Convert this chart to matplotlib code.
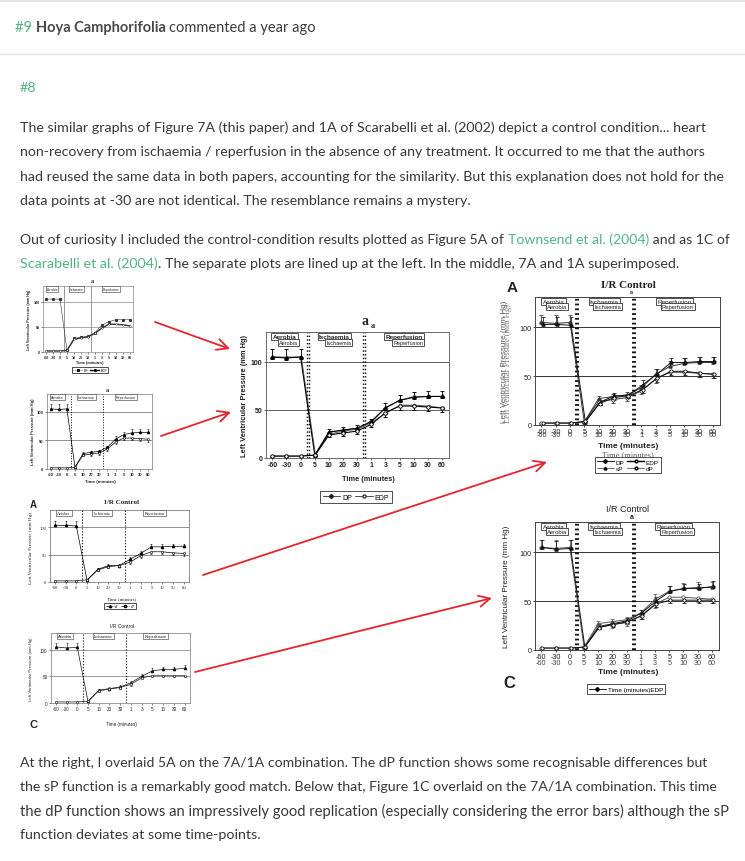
import numpy as np
import matplotlib
matplotlib.use('Agg')
import matplotlib.pyplot as plt
from matplotlib.lines import Line2D
from matplotlib.patches import Rectangle
from matplotlib.transforms import offset_copy

W, H = 745, 862
GREEN = '#52b384'
INK = '#383838'
RED = '#e3262e'
BODY = 'Lato'

# ---- comment text ----
header = [('#9 ', GREEN, 'normal'), ('Hoya Camphorifolia ', '#4a4a4a', 'bold'),
          ('commented a year ago', '#3c3c3c', 'normal')]
para1 = ['The similar graphs of Figure 7A (this paper) and 1A of Scarabelli et al. (2002) depict a control condition... heart',
         'non-recovery from ischaemia / reperfusion in the absence of any treatment. It occurred to me that the authors',
         'had reused the same data in both papers, accounting for the similarity. But this explanation does not hold for the',
         'data points at -30 are not identical. The resemblance remains a mystery.']
para2 = [[('Out of curiosity I included the control-condition results plotted as Figure 5A of ', INK),
          ('Townsend et al. (2004)', GREEN), (' and as 1C of', INK)],
         [('Scarabelli et al. (2004)', GREEN),
          ('. The separate plots are lined up at the left. In the middle, 7A and 1A superimposed.', INK)]]
para3 = ['At the right, I overlaid 5A on the 7A/1A combination. The dP function shows some recognisable differences but',
         'the sP function is a remarkably good match. Below that, Figure 1C overlaid on the 7A/1A combination. This time',
         'the dP function shows an impressively good replication (especially considering the error bars) although the sP',
         'function deviates at some time-points.']

# ---- chart data (mm Hg) ----
times = ['-60', '-30', '0', '5', '10', '20', '30', '1', '3', '5', '10', '30', '60']
phase_names = ['Aerobia', 'Ischaemia', 'Reperfusion']

# Figure 7A (this paper)
dp_7a = [105, 105, 105, 3, 27, 29, 31, 38, 53, 60, 64, 64, 64]
edp_7a = [2, 2, 2, 3, 25, 28, 30, 37, 47, 55, 55, 54, 52]
# Scarabelli et al. (2002) 1A
dp_1a = [105, 104, 105, 3, 27, 29, 31, 38, 52, 60, 63, 64, 64]
dp_1a_err = [8, 9, 8, 1, 3, 3, 3, 3, 5, 5, 6, 6, 6]
edp_1a = [2, 2, 2, 3, 24, 26, 28, 35, 47, 54, 54, 53, 52]
edp_1a_err = [1, 1, 1, 1, 2, 3, 3, 3, 4, 4, 4, 4, 4]
# Townsend et al. (2004) 5A
dp_5a = [103, 103, 102, 3, 23, 30, 30, 41, 52, 64, 64, 65, 65]
dp_5a_err = [8, 8, 9, 1, 3, 3, 2, 5, 5, 5, 5, 5, 5]
edp_5a = [2, 2, 2, 4, 22, 28, 30, 36, 48, 55, 55, 53, 52]
edp_5a_err = [1, 1, 1, 1, 2, 2, 2, 3, 4, 4, 4, 4, 4]
# Scarabelli et al. (2004) 1C
dp_1c = [105, 103, 104, 3, 24, 27, 30, 38, 50, 60, 63, 63, 65]
dp_1c_err = [8, 9, 9, 1, 3, 3, 3, 3, 4, 5, 5, 5, 6]
edp_1c = [2, 2, 2, 3, 23, 26, 29, 35, 47, 51, 51, 51, 51]
edp_1c_err = [1, 1, 1, 1, 2, 2, 2, 3, 3, 3, 3, 3, 3]

fig = plt.figure(figsize=(W / 100, H / 100), dpi=100)
bg = fig.add_axes([0, 0, 1, 1])
bg.set_xlim(0, W)
bg.set_ylim(H, 0)
bg.axis('off')
R = fig.canvas.get_renderer()


def wpx(s, fs, weight='normal', family=BODY):
    t = bg.text(0, 0, s, fontsize=fs, family=family, weight=weight)
    w = t.get_window_extent(R).width
    t.remove()
    return w


def fit(t, length):
    e = t.get_window_extent(R)
    t.set_fontsize(t.get_fontsize() * length / max(e.width, e.height))
    return t


def seg_line(x, y, segs, fs, right=None):
    # right: where the line ends in the screenshot, used to nudge the size
    if right:
        whole = ''.join(seg[0] for seg in segs)
        fs = fs * (right - x) / wpx(whole, fs)
    for seg in segs:
        s, c = seg[0], seg[1]
        wt = seg[2] if len(seg) > 2 else 'normal'
        bg.text(x, y, s, color=c, fontsize=fs, family=BODY, weight=wt, va='center', ha='left')
        x += wpx(s + '|', fs, wt) - wpx('|', fs, wt)


# page furniture
bg.add_patch(Rectangle((0, 0), W, 3, color='#e3e7ea', lw=0))
bg.plot([0, W], [55, 55], color='#e4e4e4', lw=1)

fs_body = 12 * 685 / wpx(para1[0], 12)
fs_head = 12 * 297 / wpx(''.join(s for s, c, w in header), 12)
seg_line(15, 28, header, fs_head)
bg.text(20, 88, '#8', color=GREEN, fontsize=fs_body, family=BODY, va='center')
for y, line, r in zip([128, 152, 177, 201], para1, [705, 705, 722, None]):
    seg_line(20, y, [(line, INK)], fs_body, r)
for y, segs, r in zip([240, 264], para2, [727, 676]):
    seg_line(20, y, segs, fs_body, r)
for y, line, r in zip([763, 787, 811, 835], para3, [703, 715, 722, None]):
    seg_line(20, y, [(line, INK)], fs_body, r)

# red arrows between the plots
for start, tip in [((155, 323), (230, 350)), ((161, 437), (231, 413)),
                   ((203, 576), (547, 463)), ((195, 673), (492, 599))]:
    bg.annotate('', xy=tip, xytext=start,
                arrowprops=dict(arrowstyle='->,head_length=0.8,head_width=0.4', color=RED,
                                lw=1.3, shrinkA=0, shrinkB=0))


# ---- chart helpers ----
def add_ax(x0, y0, x1, y1):
    ax = fig.add_axes([x0 / W, 1 - y1 / H, (x1 - x0) / W, (y1 - y0) / H])
    ax.set_xlim(-0.45, 12.5)
    ax.set_ylim(0, 131)
    ax.set_facecolor('none')
    return ax


def frame(ax, fs, fam='Liberation Sans', wt='normal', spine='#666', grid='#555', lw=0.6,
          vstyle=':', vlw=0.9, vcol='k', double=False, dup=0):
    for sp in ax.spines.values():
        sp.set_color(spine)
        sp.set_linewidth(lw)
    for yy in (50, 100):
        ax.axhline(yy, color=grid, lw=lw, zorder=1)
    for xx in (2.5, 6.5):
        for off in ((-0.07, 0.07) if double else (0,)):
            ax.axvline(xx + off, color=vcol, ls=vstyle, lw=vlw, zorder=1)
    ax.set_xticks(range(len(times)))
    ax.set_xticklabels(times)
    ax.set_yticks([0, 50, 100])
    ax.tick_params(labelsize=fs, length=1.5, width=lw * 0.8, pad=1, colors='#222')
    for lab in ax.get_xticklabels() + ax.get_yticklabels():
        lab.set_family(fam)
        lab.set_weight(wt)
    if dup:
        # the overlaid screenshots show a second, slightly shifted row of tick labels
        tr = offset_copy(ax.get_xaxis_transform(), fig=fig, x=0, y=-dup, units='dots')
        for i, s in enumerate(times):
            ax.text(i, -0.035, s, transform=tr, ha='center', va='top', fontsize=fs,
                    family=fam, weight=wt, color='#444', clip_on=False)


def series(ax, dp, dpe, edp, edpe, dx=0.0, c='k', mk='^', lw=0.7, ms=2.5, cap=1.0, edp_lw=None):
    xs = np.arange(len(times)) + dx
    z = np.zeros(len(times))
    if dpe is not None:
        ax.errorbar(xs, dp, yerr=[z, dpe], fmt='none', ecolor=c, elinewidth=lw * 0.8,
                    capsize=cap, capthick=lw * 0.8, zorder=3)
    ax.plot(xs, dp, color=c, lw=lw, marker=mk, ms=ms, mfc=c, mec=c, zorder=4)
    if edpe is not None:
        ax.errorbar(xs, edp, yerr=[edpe, z], fmt='none', ecolor=c, elinewidth=lw * 0.8,
                    capsize=cap, capthick=lw * 0.8, zorder=3)
    ax.plot(xs, edp, color=c, lw=edp_lw or lw, marker='o', ms=ms, mfc='white', mec=c,
            mew=lw * 0.8, zorder=4)


def phases(ax, fs, fam='Liberation Sans', wt='normal', dx=0.0, dy=0.0, pad=0.25, lw=0.5, ec='#333'):
    for xc, name in zip((0.85, 4.4, 9.3), phase_names):
        ax.text(xc + dx, 129 - dy, name, ha='center', va='top', fontsize=fs, family=fam, weight=wt,
                color='#222', bbox=dict(boxstyle='square,pad=%g' % pad, fc='white', ec=ec, lw=lw),
                zorder=5)


def label(x, y, s, length=None, rot=0, fs=5, fam='Liberation Sans', wt='normal', color='#222'):
    t = bg.text(x, y, s, rotation=rot, ha='center', va='center', fontsize=fs, family=fam,
                weight=wt, color=color)
    if length:
        fit(t, length)
    return t


def legend(cx, cy, handles, labels, fs, fam='Liberation Sans', wt='normal', ncol=2, hl=2.2):
    leg = fig.legend(handles, labels, loc='center', bbox_to_anchor=(cx / W, 1 - cy / H), ncol=ncol,
                     prop={'family': fam, 'size': fs, 'weight': wt}, frameon=True, fancybox=False,
                     edgecolor='#333', framealpha=1, handlelength=hl, handletextpad=0.3,
                     columnspacing=0.5, borderpad=0.3, borderaxespad=0, labelspacing=0.1)
    leg.get_frame().set_linewidth(0.6)
    return leg


def h(mk, mfc='k', ls='-', c='k', lw=0.6, ms=2.5):
    return Line2D([], [], color=c, lw=lw, ls=ls, marker=mk, mfc=mfc, mec=c, ms=ms)


YL = 'Left Ventricular Pressure (mm Hg)'
XL = 'Time (minutes)'

# ---- left column: the four separate plots ----
# 7A (this paper)
ax = add_ax(43, 287, 133, 353)
frame(ax, 2.6, wt='bold', spine='#888', grid='#888', lw=0.5, vstyle='-', vcol='#888', vlw=0.6)
series(ax, dp_7a, None, edp_7a, None, c='#333', mk='s', lw=0.4, ms=1.2, edp_lw=1.0)
phases(ax, 2.2, pad=0.3, lw=0.4)
label(92, 282, 'a', fs=4.5, fam='Liberation Serif', wt='bold')
label(29, 320, YL, length=62, rot=90, wt='bold')
label(90, 363, XL, fs=2.8, wt='bold')
legend(90, 371, [h('s', ls=':', lw=0.4, ms=1.2), h('o', mfc='white', lw=1.0, ms=1.2)], ['DP', 'EDP'], 2.3, hl=3)

# 1A (Scarabelli 2002)
ax = add_ax(47, 395, 152, 470)
frame(ax, 3.0, wt='bold', spine='#777', grid='#666', lw=0.5, vstyle=':', vlw=0.7)
series(ax, dp_1a, dp_1a_err, edp_1a, edp_1a_err, c='k', mk='^', lw=0.5, ms=1.5, cap=0.8)
phases(ax, 2.6, pad=0.3, lw=0.4)
label(107, 391, 'a', fs=4.5, fam='Liberation Serif', wt='bold')
label(33, 432, YL, length=68, rot=90, wt='bold')
label(100, 482, XL, fs=3.2, wt='bold')

# 5A (Townsend 2004)
ax = add_ax(50, 511, 189, 583)
frame(ax, 3.4, fam='Liberation Serif', spine='#666', grid='#666', lw=0.5, vstyle=':', vlw=0.8)
series(ax, dp_5a, dp_5a_err, edp_5a, edp_5a_err, c='k', mk='^', lw=0.5, ms=1.6, cap=0.8)
phases(ax, 3.0, fam='Liberation Serif', pad=0.3, lw=0.4)
label(33, 505, 'A', fs=7, wt='bold')
label(122, 503, 'I/R Control', fs=5, fam='Liberation Serif', wt='bold')
label(31, 548, YL, length=72, rot=90, fam='Liberation Serif')
label(122, 599, XL, fs=3.4, fam='Liberation Serif')
legend(120, 607, [h('^', ls='--', lw=0.5, ms=1.6), h('o', mfc='white', ls='--', lw=0.5, ms=1.6)],
       ['sP', 'dP'], 2.8, fam='Liberation Serif')

# 1C (Scarabelli 2004)
ax = add_ax(51, 634, 190, 704)
frame(ax, 3.3, spine='#777', grid='#777', lw=0.5, vstyle=':', vlw=0.8)
series(ax, dp_1c, dp_1c_err, edp_1c, edp_1c_err, c='#111', mk='^', lw=0.5, ms=1.6, cap=0.8)
phases(ax, 3.0, pad=0.3, lw=0.4)
label(122, 627, 'I/R Control', fs=3.6)
label(33, 725, 'C', fs=8, wt='bold')
label(31, 669, YL, length=66, rot=90)
label(122, 725, XL, fs=3.3)

# ---- middle: 7A and 1A superimposed ----
ax = add_ax(266, 333, 449, 459)
frame(ax, 5.0, wt='bold', spine='#555', grid='#444', lw=0.6, vstyle=':', vlw=1.0, double=True)
series(ax, dp_7a, None, edp_7a, None, dx=0.05, c='#666', mk='^', lw=0.7, ms=2.0)
series(ax, dp_1a, dp_1a_err, edp_1a, edp_1a_err, c='k', mk='^', lw=0.8, ms=2.5, cap=1.5)
phases(ax, 4.6, wt='bold', pad=0.2, lw=0.6)
phases(ax, 4.0, dx=0.3, dy=6.5, pad=0.2, lw=0.6)
label(365, 322, 'a', fs=10, fam='Liberation Serif', wt='bold')
label(373, 326, 'a', fs=6, fam='Liberation Serif', wt='bold')
label(244, 396, YL, length=123, rot=90, wt='bold')
label(368, 480, XL, fs=5.3, wt='bold')
legend(356, 498, [h('D', c='#333', ms=2.2), h('o', mfc='white', c='#333', ms=2.2)], ['DP', 'EDP'], 5.0, hl=2.5)

# ---- right top: 5A overlaid on 7A/1A ----
ax = add_ax(535, 298, 720, 426)
frame(ax, 5.2, spine='#444', grid='#333', lw=0.7, vstyle=':', vlw=1.3, double=True, dup=2)
series(ax, dp_1a, dp_1a_err, edp_1a, edp_1a_err, c='#333', mk='^', lw=0.7, ms=2.3, cap=1.3)
series(ax, dp_5a, dp_5a_err, edp_5a, edp_5a_err, dx=0.08, c='#111', mk='^', lw=0.7, ms=2.3, cap=1.3)
phases(ax, 4.6, pad=0.2, lw=0.6)
phases(ax, 4.2, dx=0.25, dy=5, pad=0.2, lw=0.6)
label(512, 288, 'A', fs=11, wt='bold')
label(628, 286, 'I/R Control', fs=8, fam='Liberation Serif', wt='bold')
label(631, 293, 'a', fs=4, wt='bold')
label(505, 362, YL, length=125, rot=90, color='#555')
label(508, 364, YL, length=118, rot=90, fam='Liberation Serif', color='#777')
label(628, 447, XL, fs=6, wt='bold')
label(628, 455, XL, fs=6, fam='Liberation Serif', color='#555')
legend(628, 466, [h('D', ms=2), h('^', lw=0.4, ms=2), h('o', mfc='white', lw=1.0, ms=2),
                  h('o', mfc='white', lw=0.4, ms=2)],
       ['DP', 'sP', 'EDP', 'dP'], 4.6, hl=2.6)

# ---- right bottom: 1C overlaid on 7A/1A ----
ax = add_ax(535, 523, 719, 651)
frame(ax, 5.2, spine='#444', grid='#333', lw=0.7, vstyle=':', vlw=1.3, double=True, dup=5)
series(ax, dp_1a, dp_1a_err, edp_1a, edp_1a_err, c='#555', mk='^', lw=0.7, ms=2.3, cap=1.3)
series(ax, dp_1c, dp_1c_err, edp_1c, edp_1c_err, dx=0.06, c='#111', mk='^', lw=0.7, ms=2.3, cap=1.3)
phases(ax, 4.6, pad=0.2, lw=0.6)
phases(ax, 4.2, dx=0.25, dy=5, pad=0.2, lw=0.6)
label(509, 684, 'C', fs=12, wt='bold')
label(628, 510, 'I/R Control', fs=6.5)
label(632, 518, 'a', fs=5, wt='bold')
label(506, 587, YL, length=125, rot=90)
label(628, 673, XL, fs=6, wt='bold')
legend(626, 690, [h('D', ms=2)], ['Time (minutes)EDP'], 4.6, ncol=1, hl=2.6)

fig.savefig('out.png', dpi=100)
